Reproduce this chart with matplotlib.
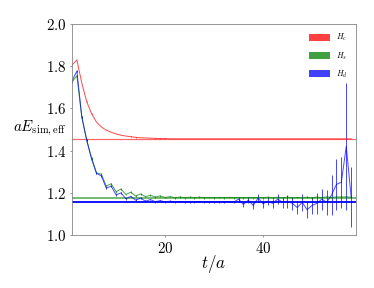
import numpy as np
import matplotlib
matplotlib.use('Agg')
from matplotlib import pyplot as plt
from matplotlib.patches import Patch
from matplotlib.ticker import FuncFormatter

plt.rcParams['mathtext.fontset'] = 'cm'

# tiempos
t = np.arange(1, 59)

# H_c
Ec = [1.805, 1.830, 1.720, 1.632, 1.575, 1.535, 1.512, 1.497, 1.487, 1.479,
      1.473, 1.469, 1.466, 1.463, 1.461, 1.460, 1.459, 1.458, 1.457, 1.457,
      1.456, 1.456, 1.456, 1.456, 1.456, 1.456, 1.456, 1.456, 1.456, 1.456,
      1.456, 1.456, 1.456, 1.456, 1.456, 1.456, 1.456, 1.456, 1.456, 1.456,
      1.456, 1.456, 1.456, 1.456, 1.456, 1.456, 1.456, 1.456, 1.456, 1.456,
      1.456, 1.456, 1.456, 1.456, 1.456, 1.456, 1.456, 1.456]
# H_s
Es = [1.725, 1.755, 1.560, 1.450, 1.365, 1.295, 1.288, 1.232, 1.243, 1.205,
      1.218, 1.192, 1.203, 1.185, 1.195, 1.182, 1.188, 1.180, 1.185, 1.178,
      1.182, 1.177, 1.180, 1.177, 1.179, 1.177, 1.179, 1.177, 1.178, 1.177,
      1.178, 1.177, 1.178, 1.177, 1.178, 1.177, 1.178, 1.177, 1.178, 1.177,
      1.179, 1.176, 1.179, 1.176, 1.180, 1.176, 1.178, 1.176, 1.179, 1.176,
      1.180, 1.177, 1.181, 1.178, 1.181, 1.180, 1.181, 1.179]
# H_d
Ed = [1.730, 1.777, 1.560, 1.450, 1.360, 1.292, 1.280, 1.222, 1.232, 1.190,
      1.200, 1.172, 1.183, 1.165, 1.175, 1.160, 1.168, 1.158, 1.163, 1.157,
      1.160, 1.157, 1.159, 1.157, 1.158, 1.157, 1.159, 1.157, 1.158, 1.157,
      1.158, 1.157, 1.159, 1.156, 1.170, 1.145, 1.165, 1.140, 1.175, 1.148,
      1.160, 1.150, 1.170, 1.155, 1.160, 1.150, 1.130, 1.155, 1.120, 1.140,
      1.150, 1.170, 1.155, 1.190, 1.240, 1.250, 1.420, 1.180]
errd = [0.004] * 34 + [0.012, 0.012, 0.015, 0.015, 0.018, 0.018, 0.02, 0.02,
                       0.025, 0.025, 0.03, 0.03, 0.03, 0.04, 0.04, 0.04, 0.05,
                       0.05, 0.06, 0.095, 0.12, 0.12, 0.30, 0.14]
errs = [0.004] * 58
errc = [0.001] * 58

# ajustes
fit_c = 1.457
fit_s = 1.177
fit_d = 1.158

fig = plt.figure(figsize=(374 / 72, 288 / 72), dpi=72)
ax = fig.add_axes([0.1925, 0.184, 0.7595, 0.7326])

ax.errorbar(t, Ec, yerr=errc, color='red', alpha=0.7, lw=1)
ax.errorbar(t, Es, yerr=errs, color='green', alpha=0.7, lw=1)
ax.errorbar(t, Ed, yerr=errd, color='blue', alpha=0.7, lw=1)
ax.axhline(fit_c, color='red', alpha=0.6, lw=1.2)
ax.axhline(fit_s, color='green', alpha=0.7, lw=1.5)
ax.axhline(fit_d, color='blue', alpha=0.9, lw=2)

ax.set_xlim(1, 59)
ax.set_ylim(1.0, 2.0)
ax.set_xticks([20, 40])
ax.set_yticks([1.0, 1.2, 1.4, 1.6, 1.8, 2.0])
ax.xaxis.set_major_formatter(FuncFormatter(lambda v, p: r'$%d$' % v))
ax.yaxis.set_major_formatter(FuncFormatter(lambda v, p: r'$%.1f$' % v))
ax.tick_params(labelsize=15, length=2, color='0.5')
for s in ax.spines.values():
    s.set_color('0.5')

ax.set_xlabel(r'$t/a$', fontsize=17, labelpad=-3)
ax.set_ylabel(r'$aE_{\rm sim,eff}$', fontsize=15, rotation=0, ha='right',
              va='center')
ax.yaxis.set_label_coords(-0.02, 0.507)

handles = [Patch(facecolor='red', edgecolor='none', alpha=0.75),
           Patch(facecolor='green', edgecolor='none', alpha=0.75),
           Patch(facecolor='blue', edgecolor='none', alpha=0.75)]
ax.legend(handles, [r'$H_c$', r'$H_s$', r'$H_d$'], loc='upper right',
          frameon=False, fontsize=8, handlelength=2.6, handleheight=0.9,
          labelspacing=0.85, borderaxespad=0.6)

fig.savefig('out.png', dpi=72)
